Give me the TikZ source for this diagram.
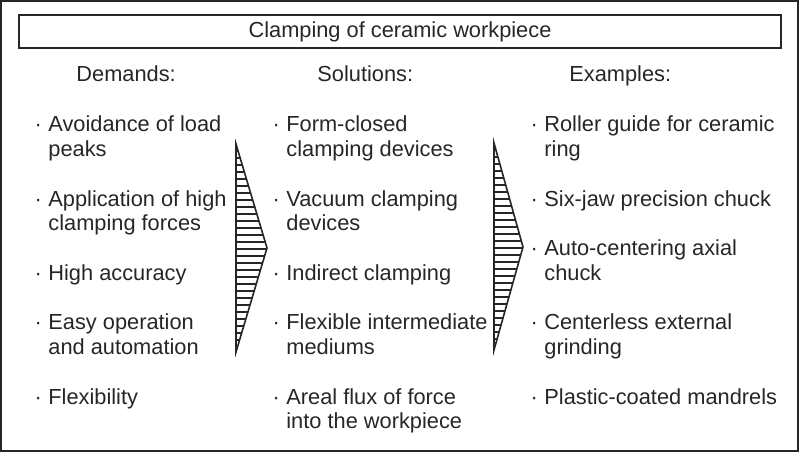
\documentclass[tikz,border=0pt]{standalone}
\usepackage{fontspec}
\setmainfont{Liberation Sans}
\usetikzlibrary{positioning}
\definecolor{inkgray}{RGB}{38,38,38}

\tikzset{
  head/.style={anchor=base west, inner sep=0pt, text=inkgray,
    font=\fontsize{10.9}{12.375}\selectfont},
  entry/.style={anchor=base west, inner sep=0pt, align=left, text=inkgray,
    font=\fontsize{10.9}{12.375}\selectfont},
  hatchtri/.style={draw=inkgray, line width=0.8pt, line join=miter},
}
\newcommand{\itemdot}{\llap{\textperiodcentered\hspace{3.2pt}}}

\begin{document}
\begin{tikzpicture}[x=0.5pt, y=-0.5pt]
        \useasboundingbox (0,0) rectangle (800,453);
        \draw[draw=inkgray, line width=0.8pt] (1,1) rectangle (798,451);
        % title
        \node[draw=inkgray, line width=1.15pt, minimum width=381pt,
              minimum height=16.5pt, inner sep=0pt, text=inkgray,
              font=\fontsize{10.9}{12.375}\selectfont] (title) at (400,31.5)
              {Clamping of ceramic workpiece};
        % column heads
        \node[head] (demands) at (76,82) {Demands:};
        \node[head] (solutions) at (317,82) {Solutions:};
        \node[head] (examples) at (569,82) {Examples:};
        % demands (base = last line)
        \node[entry] (d1) at (48,156.75) {\itemdot Avoidance of load\\peaks};
        \node[entry] (d2) at (48,231) {\itemdot Application of high\\clamping forces};
        \node[entry] (d3) at (48,280.5) {\itemdot High accuracy};
        \node[entry] (d4) at (48,354.75) {\itemdot Easy operation\\and automation};
        \node[entry] (d5) at (48,404.25) {\itemdot Flexibility};
        % solutions
        \node[entry] (s1) at (286,156.75) {\itemdot Form-closed\\clamping devices};
        \node[entry] (s2) at (286,231) {\itemdot Vacuum clamping\\devices};
        \node[entry] (s3) at (286,280.5) {\itemdot Indirect clamping};
        \node[entry] (s4) at (286,354.75) {\itemdot Flexible intermediate\\mediums};
        \node[entry] (s5) at (286,429) {\itemdot Areal flux of force\\into the workpiece};
        % examples
        \node[entry] (e1) at (544,156.75) {\itemdot Roller guide for ceramic\\ring};
        \node[entry] (e2) at (544,206.25) {\itemdot Six-jaw precision chuck};
        \node[entry] (e3) at (544,280.5) {\itemdot Auto-centering axial\\chuck};
        \node[entry] (e4) at (544,354.75) {\itemdot Centerless external\\grinding};
        \node[entry] (e5) at (544,404.25) {\itemdot Plastic-coated mandrels};
        % hatched wedge 1
        \begin{scope}
          \clip (236,144) -- (267,248) -- (236,352) -- cycle;
          \foreach \y in {151,158,...,347}
            \draw[draw=inkgray, line width=0.7pt] (236,\y) -- (268,\y);
        \end{scope}
        \draw[hatchtri] (236,144) -- (267,248) -- (236,352) -- cycle;
        % hatched wedge 2
        \begin{scope}
          \clip (494,143) -- (523,247) -- (494,350) -- cycle;
          \foreach \y in {150,157,...,346}
            \draw[draw=inkgray, line width=0.7pt] (494,\y) -- (524,\y);
        \end{scope}
        \draw[hatchtri] (494,143) -- (523,247) -- (494,350) -- cycle;
      \end{tikzpicture}
\end{document}
